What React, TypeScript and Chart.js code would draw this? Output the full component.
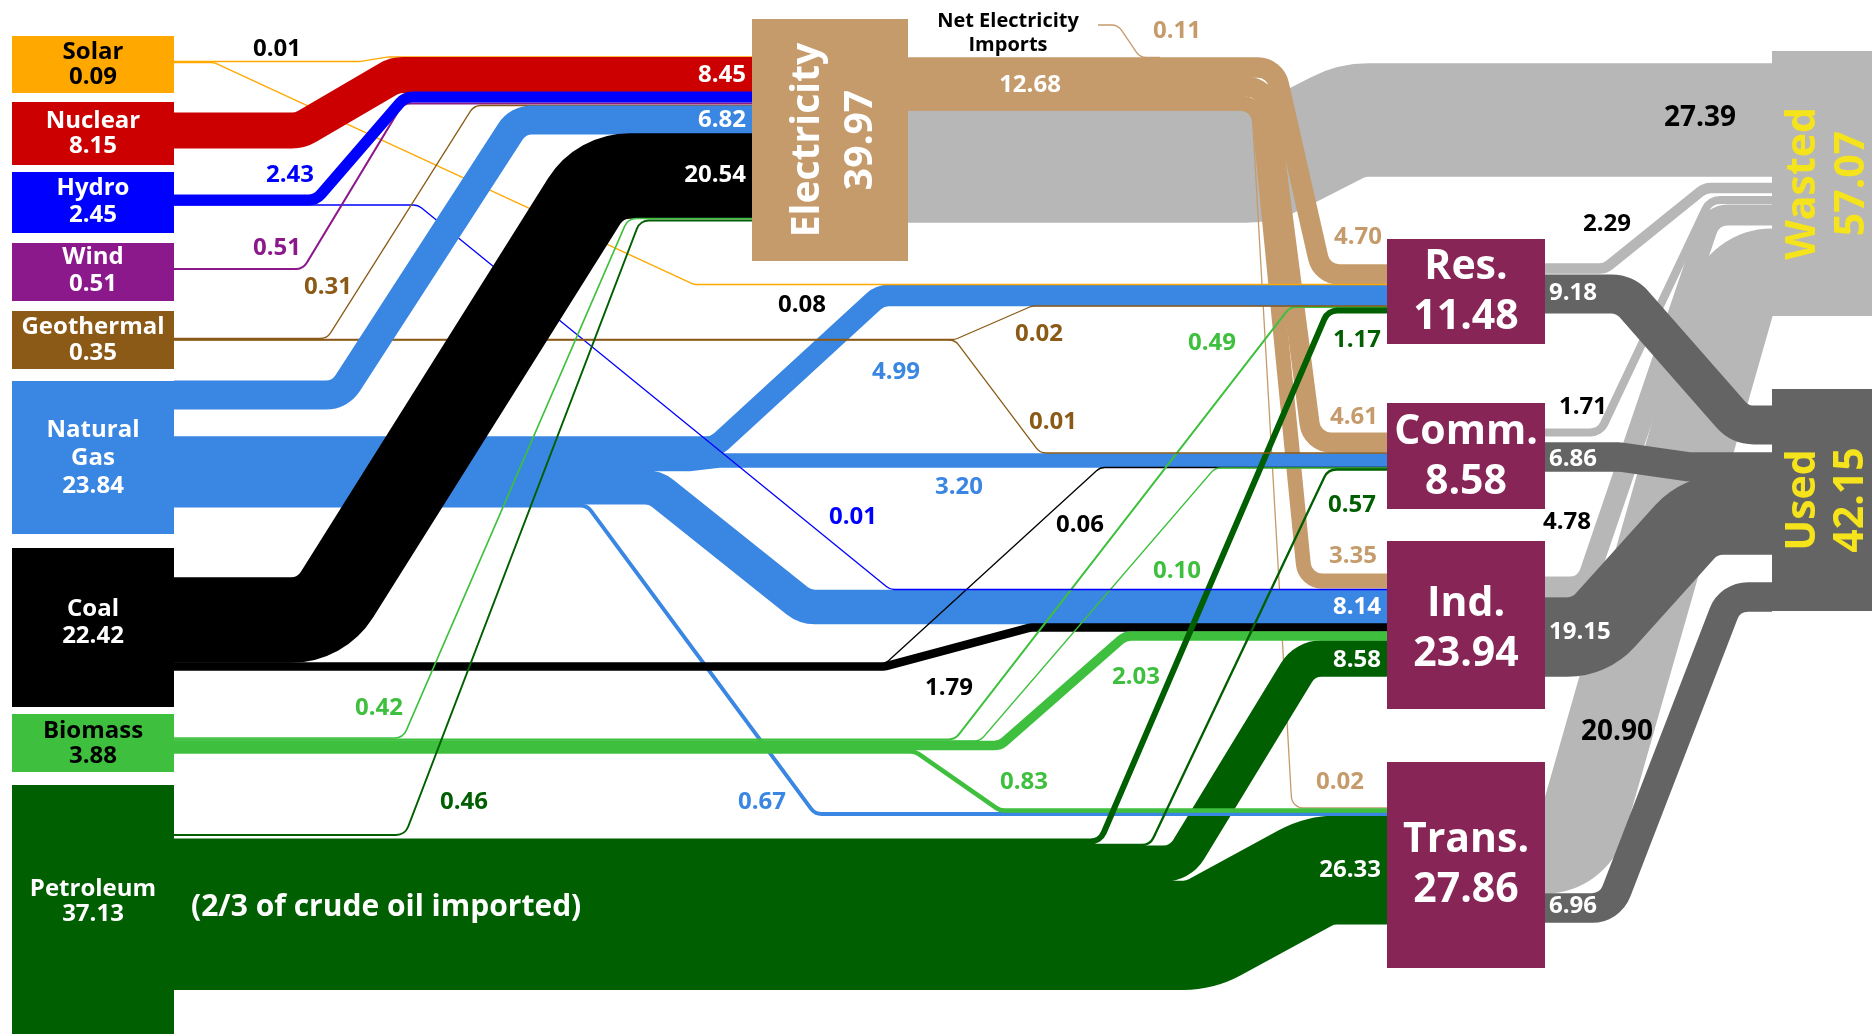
import React, { useEffect, useRef } from 'react';
import { Chart, registerables } from 'chart.js';

Chart.register(...registerables);

// ---------------- data ----------------
const nodeNames = ['Solar', 'Nuclear', 'Hydro', 'Wind', 'Geothermal', 'Natural Gas', 'Coal', 'Biomass', 'Petroleum',
  'Electricity', 'Res.', 'Comm.', 'Ind.', 'Trans.', 'Wasted', 'Used', 'Net Electricity Imports'];
const nodeValues = [0.09, 8.15, 2.45, 0.51, 0.35, 23.84, 22.42, 3.88, 37.13,
  39.97, 11.48, 8.58, 23.94, 27.86, 57.07, 42.15, 0.11];

const linkSources = ['Solar', 'Solar', 'Nuclear', 'Hydro', 'Hydro', 'Wind', 'Geothermal', 'Geothermal', 'Geothermal',
  'Natural Gas', 'Natural Gas', 'Natural Gas', 'Natural Gas', 'Natural Gas', 'Coal', 'Coal', 'Coal',
  'Biomass', 'Biomass', 'Biomass', 'Biomass', 'Biomass', 'Petroleum', 'Petroleum', 'Petroleum', 'Petroleum', 'Petroleum',
  'Net Electricity Imports', 'Electricity', 'Electricity', 'Electricity', 'Electricity', 'Electricity',
  'Res.', 'Res.', 'Comm.', 'Comm.', 'Ind.', 'Ind.', 'Trans.', 'Trans.'];
const linkTargets = ['Electricity', 'Res.', 'Electricity', 'Electricity', 'Ind.', 'Electricity', 'Electricity', 'Res.', 'Comm.',
  'Electricity', 'Res.', 'Comm.', 'Ind.', 'Trans.', 'Electricity', 'Comm.', 'Ind.',
  'Electricity', 'Res.', 'Comm.', 'Ind.', 'Trans.', 'Electricity', 'Res.', 'Comm.', 'Ind.', 'Trans.',
  'Electricity', 'Res.', 'Comm.', 'Ind.', 'Trans.', 'Wasted',
  'Wasted', 'Used', 'Wasted', 'Used', 'Wasted', 'Used', 'Wasted', 'Used'];
const linkValues = [0.01, 0.08, 8.45, 2.43, 0.01, 0.51, 0.31, 0.02, 0.01,
  6.82, 4.99, 3.20, 8.14, 0.67, 20.54, 0.06, 1.79,
  0.42, 0.49, 0.10, 2.03, 0.83, 0.46, 1.17, 0.57, 8.58, 26.33,
  0.11, 4.70, 4.61, 3.35, 0.02, 27.39,
  2.29, 9.18, 1.71, 6.86, 4.78, 19.15, 20.90, 6.96];

const petroleumNote = '(2/3 of crude oil imported)';

// ---------------- layout (scale units) ----------------
const X_MAX = 1872;
const Y_MAX = 1034;
const QUAD = 4.1; // y-units per quad

const nodeBox: Record<string, number[]> = {
  'Solar': [12, 36, 174, 93],
  'Nuclear': [12, 102, 174, 165],
  'Hydro': [12, 172, 174, 233],
  'Wind': [12, 243, 174, 301],
  'Geothermal': [12, 311, 174, 369],
  'Natural Gas': [12, 381, 174, 534],
  'Coal': [12, 548, 174, 707],
  'Biomass': [12, 714, 174, 772],
  'Petroleum': [12, 785, 174, 1040],
  'Electricity': [752, 19, 908, 261],
  'Res.': [1387, 239, 1545, 344],
  'Comm.': [1387, 403, 1545, 509],
  'Ind.': [1387, 541, 1545, 709],
  'Trans.': [1387, 762, 1545, 968],
  'Wasted': [1772, 51, 1872, 316],
  'Used': [1772, 389, 1872, 611],
};

const nodeColor: Record<string, string> = {
  'Solar': '#ffa800', 'Nuclear': '#cc0000', 'Hydro': '#0000ff', 'Wind': '#8c198c', 'Geothermal': '#8b5a16',
  'Natural Gas': '#3a86e3', 'Coal': '#000000', 'Biomass': '#3ec03e', 'Petroleum': '#005f00',
  'Electricity': '#c59b6c', 'Res.': '#862556', 'Comm.': '#862556', 'Ind.': '#862556', 'Trans.': '#862556',
  'Wasted': '#b7b7b7', 'Used': '#646464', 'Net Electricity Imports': '#c59b6c',
};
const labelTextColor: Record<string, string> = {
  'Solar': '#000000', 'Nuclear': '#cc0000', 'Hydro': '#0000ff', 'Wind': '#8c198c', 'Geothermal': '#8b5a16',
  'Natural Gas': '#3a86e3', 'Coal': '#000000', 'Biomass': '#3ec03e', 'Petroleum': '#005f00',
  'Electricity': '#c59b6c', 'Net Electricity Imports': '#c59b6c',
};
const sourceLabelLayout: Record<string, { lines: string[]; y: number; color: string; gap: number }> = {
  'Solar': { lines: ['Solar'], y: 65, color: '#000', gap: 25 },
  'Nuclear': { lines: ['Nuclear'], y: 134, color: '#fff', gap: 25 },
  'Hydro': { lines: ['Hydro'], y: 202, color: '#fff', gap: 27 },
  'Wind': { lines: ['Wind'], y: 271, color: '#fff', gap: 27 },
  'Geothermal': { lines: ['Geothermal'], y: 340, color: '#fff', gap: 26 },
  'Natural Gas': { lines: ['Natural', 'Gas'], y: 458, color: '#fff', gap: 28 },
  'Coal': { lines: ['Coal'], y: 623, color: '#fff', gap: 27 },
  'Biomass': { lines: ['Biomass'], y: 744, color: '#000', gap: 25 },
  'Petroleum': { lines: ['Petroleum'], y: 902, color: '#fff', gap: 25 },
};
const sectorLabelY: Record<string, number> = { 'Res.': 292, 'Comm.': 457, 'Ind.': 629, 'Trans.': 865 };

// per link: [source y, bend start x, bend end x, target y]
const routes: number[][] = [
  [61.5, 360, 388, 57], [62.5, 214, 694, 284.5], [130.5, 300, 395, 75], [200, 316, 405, 97],
  [205, 418, 890, 589.5], [269, 303, 403, 103.5], [338.5, 327, 474, 105.5], [339.5, 955, 1032, 306],
  [340, 955, 1040, 453],
  [395, 340, 518, 120], [447, 715, 880, 295.5], [464, 690, 720, 460.5], [487.3, 655, 805, 607],
  [505.5, 587, 815, 814],
  [620, 321, 600, 176], [664, 885, 1100, 467.5], [666.5, 885, 1030, 627.5],
  [738, 403, 628, 218.5], [739.5, 955, 1290, 307], [741, 980, 1215, 468], [745.6, 1000, 1125, 636],
  [751.5, 915, 1000, 810.5],
  [835, 405, 640, 220.5], [841.4, 1100, 1328, 310.5], [845, 1150, 1328, 469.5], [863.7, 1180, 1305, 658.5],
  [935.3, 1200, 1320, 870],
  [25, 1118, 1140, 57.5],
  [67.6, 1275, 1322, 274.5], [86.8, 1266, 1312, 442.5], [103.1, 1258, 1305, 581], [110, 1252, 1292, 808],
  [166, 1262, 1352, 120],
  [268.5, 1605, 1705, 188], [294, 1625, 1740, 425], [432.5, 1600, 1710, 200], [457, 1620, 1690, 467],
  [587, 1585, 1712, 215], [637, 1590, 1700, 515], [850, 1575, 1740, 272], [908, 1610, 1730, 597],
];
const routeEnds: Record<number, number[]> = { 27: [1098, 1160] };
const cornerCap: Record<number, number> = { 39: 24, 37: 18, 35: 16, 33: 18 };

// label: [x, y, align, style, size]
const linkLabels: any[][] = [
  [277, 49, 'center', 'k'], [802, 305, 'center', 'k'], [746, 75, 'right', 'w'], [290, 175, 'center', 's'],
  [853, 517, 'center', 's'], [277, 248, 'center', 's'], [328, 287, 'center', 's'], [1039, 334, 'center', 's'],
  [1053, 422, 'center', 's'],
  [746, 120, 'right', 'w'], [896, 372, 'center', 's'], [959, 487, 'center', 's'], [1381, 607, 'right', 'w'],
  [762, 802, 'center', 's'],
  [746, 175, 'right', 'w'], [1080, 525, 'center', 'k'], [949, 688, 'center', 'k'],
  [379, 708, 'center', 's'], [1212, 343, 'center', 's'], [1177, 571, 'center', 's'], [1136, 677, 'center', 's'],
  [1024, 782, 'center', 's'],
  [464, 802, 'center', 's'], [1357, 340, 'center', 's'], [1352, 505, 'center', 's'], [1381, 660, 'right', 'w'],
  [1381, 870, 'right', 'w'],
  [1177, 31, 'center', 's'],
  [1358, 237, 'center', 's'], [1354, 417, 'center', 's'], [1353, 556, 'center', 's'], [1340, 782, 'center', 's'],
  [1700, 118, 'center', 'k', 28],
  [1607, 224, 'center', 'k'], [1549, 293, 'left', 'w'], [1583, 407, 'center', 'k'], [1549, 459, 'left', 'w'],
  [1567, 522, 'center', 'k'], [1549, 632, 'left', 'w'], [1617, 732, 'center', 'k', 28], [1549, 906, 'left', 'w'],
];

const drawOrder = [32, 28, 29, 30, 31, 39, 37, 35, 33, 34, 36, 38, 40, 26, 25, 12, 11, 10, 13, 16, 15,
  20, 21, 18, 19, 23, 24, 0, 1, 4, 7, 8, 5, 6, 9, 14, 2, 3, 17, 22, 27];

const FONT = '"Open Sans", "DejaVu Sans", sans-serif';

function linkColor(i: number): string {
  if (linkTargets[i] === 'Wasted') return nodeColor['Wasted'];
  if (linkTargets[i] === 'Used') return nodeColor['Used'];
  return nodeColor[linkSources[i]];
}

function strokeFlow(ctx: CanvasRenderingContext2D, raw: number[][], w: number, color: string, cap?: number) {
  const p = raw.filter((q, i) => i === 0 || Math.hypot(q[0] - raw[i - 1][0], q[1] - raw[i - 1][1]) > 0.5);
  ctx.beginPath();
  ctx.moveTo(p[0][0], p[0][1]);
  for (let i = 1; i < p.length - 1; i++) {
    const [x0, y0] = p[i - 1];
    const [x1, y1] = p[i];
    const [x2, y2] = p[i + 1];
    const l1 = Math.hypot(x1 - x0, y1 - y0);
    const l2 = Math.hypot(x2 - x1, y2 - y1);
    const a1 = Math.atan2(y1 - y0, x1 - x0);
    const a2 = Math.atan2(y2 - y1, x2 - x1);
    let th = Math.abs(a2 - a1);
    if (th > Math.PI) th = 2 * Math.PI - th;
    if (th > 1e-3) {
      const t = Math.tan(th / 2);
      const maxT = Math.min(i === 1 ? l1 : l1 / 2, i === p.length - 2 ? l2 : l2 / 2);
      let r = Math.max(w / 2 + 12, 12);
      if (cap !== undefined) r = Math.min(r, w / 2 + cap);
      r = Math.min(r, maxT / t);
      ctx.arcTo(x1, y1, x2, y2, r);
    } else {
      ctx.lineTo(x1, y1);
    }
  }
  ctx.lineTo(p[p.length - 1][0], p[p.length - 1][1]);
  // a little extra width on bands hides anti-aliasing seams between neighbouring flows
  ctx.lineWidth = w > 2.5 ? w + 1.2 : Math.max(w, 1.3);
  ctx.strokeStyle = color;
  ctx.lineCap = 'butt';
  ctx.lineJoin = 'round';
  ctx.stroke();
}

function txt(ctx: CanvasRenderingContext2D, s: string, x: number, y: number, size: number, color: string,
  align: CanvasTextAlign = 'center', rotate = false) {
  ctx.save();
  ctx.font = `bold ${size}px ${FONT}`;
  ctx.fillStyle = color;
  ctx.textAlign = align;
  ctx.textBaseline = 'middle';
  ctx.translate(x, y);
  if (rotate) ctx.rotate(-Math.PI / 2);
  ctx.fillText(s, 0, 0);
  ctx.restore();
}

const sankeyPlugin = {
  id: 'sankeyFlows',
  afterDraw(chart: any) {
    const ctx: CanvasRenderingContext2D = chart.ctx;
    const xs = chart.scales.x;
    const ys = chart.scales.y;
    const px = (v: number) => xs.getPixelForValue(v);
    const py = (v: number) => ys.getPixelForValue(v);
    const thick = (q: number) => Math.abs(py(q * QUAD) - py(0));
    ctx.save();

    // flows
    drawOrder.forEach((i) => {
      const [sy, xa, xb, ty] = routes[i];
      const src = linkSources[i];
      const tgt = linkTargets[i];
      const sx = routeEnds[i] ? routeEnds[i][0] : nodeBox[src][2];
      const tx = routeEnds[i] ? routeEnds[i][1] : nodeBox[tgt][0];
      const pts = [[sx, sy], [xa, sy], [xb, ty], [tx, ty]].map(([x, y]) => [px(x), py(y)]);
      strokeFlow(ctx, pts, thick(linkValues[i]), linkColor(i), cornerCap[i]);
    });

    // nodes
    Object.keys(nodeBox).forEach((name) => {
      const [x0, y0, x1, y1] = nodeBox[name];
      ctx.fillStyle = nodeColor[name];
      ctx.fillRect(px(x0), py(y0), px(x1) - px(x0), py(y1) - py(y0));
    });

    // source node labels
    Object.keys(sourceLabelLayout).forEach((name) => {
      const L = sourceLabelLayout[name];
      const idx = nodeNames.indexOf(name);
      const lines = [...L.lines, nodeValues[idx].toFixed(2)];
      const b = nodeBox[name];
      const cx = (b[0] + b[2]) / 2;
      const start = L.y - ((lines.length - 1) * L.gap) / 2;
      lines.forEach((s, k) => txt(ctx, s, px(cx), py(start + k * L.gap), 24, L.color));
    });

    // sector labels
    Object.keys(sectorLabelY).forEach((name) => {
      const idx = nodeNames.indexOf(name);
      const b = nodeBox[name];
      const cx = (b[0] + b[2]) / 2;
      txt(ctx, name, px(cx), py(sectorLabelY[name] - 25), 41, '#fff');
      txt(ctx, nodeValues[idx].toFixed(2), px(cx), py(sectorLabelY[name] + 25), 41, '#fff');
    });

    // rotated labels
    const rot = (name: string, x1: number, x2: number, color: string, size: number) => {
      const idx = nodeNames.indexOf(name);
      const b = nodeBox[name];
      const cy = (b[1] + b[3]) / 2;
      txt(ctx, name, px(x1), py(cy), size, color, 'center', true);
      txt(ctx, nodeValues[idx].toFixed(2), px(x2), py(cy), size, color, 'center', true);
    };
    rot('Electricity', 808, 861, '#ffffff', 39);
    rot('Wasted', 1803, 1852, '#f5e31c', 41);
    rot('Used', 1803, 1851, '#f5e31c', 41);

    // net imports label
    txt(ctx, 'Net Electricity', px(1008), py(21), 20, '#000');
    txt(ctx, 'Imports', px(1008), py(45), 20, '#000');

    // petroleum note
    txt(ctx, petroleumNote, px(191), py(907), 30, '#ffffff', 'left');

    // link labels
    linkLabels.forEach((L, i) => {
      const [x, y, align, style, size] = L;
      let color = '#000';
      if (style === 'w') color = '#ffffff';
      else if (style === 's') color = labelTextColor[linkSources[i]] || '#000';
      txt(ctx, linkValues[i].toFixed(2), px(x), py(y), size || 24, color, align);
    });

    // electricity to end-use total
    const elecUse = linkValues.reduce((s, v, i) =>
      s + (linkSources[i] === 'Electricity' && linkTargets[i] !== 'Wasted' ? v : 0), 0);
    txt(ctx, elecUse.toFixed(2), px(1030), py(85), 24, '#ffffff');

    ctx.restore();
  },
};

export default function App() {
  const ref = useRef<HTMLCanvasElement | null>(null);
  useEffect(() => {
    if (!ref.current) return;
    const chart = new Chart(ref.current, {
      type: 'scatter',
      data: { datasets: [{ data: [], pointRadius: 0 }] },
      options: {
        animation: false,
        responsive: true,
        maintainAspectRatio: false,
        layout: { padding: 0 },
        plugins: { legend: { display: false }, tooltip: { enabled: false } },
        scales: {
          x: { type: 'linear', min: 0, max: X_MAX, display: false },
          y: { type: 'linear', min: 0, max: Y_MAX, reverse: true, display: false },
        },
      },
      plugins: [sankeyPlugin],
    } as any);
    return () => chart.destroy();
  }, []);
  return (
    <div style={{ position: 'fixed', left: 0, top: 0, width: 1872, height: 1034, background: '#ffffff' }}>
      <canvas ref={ref} />
    </div>
  );
}
